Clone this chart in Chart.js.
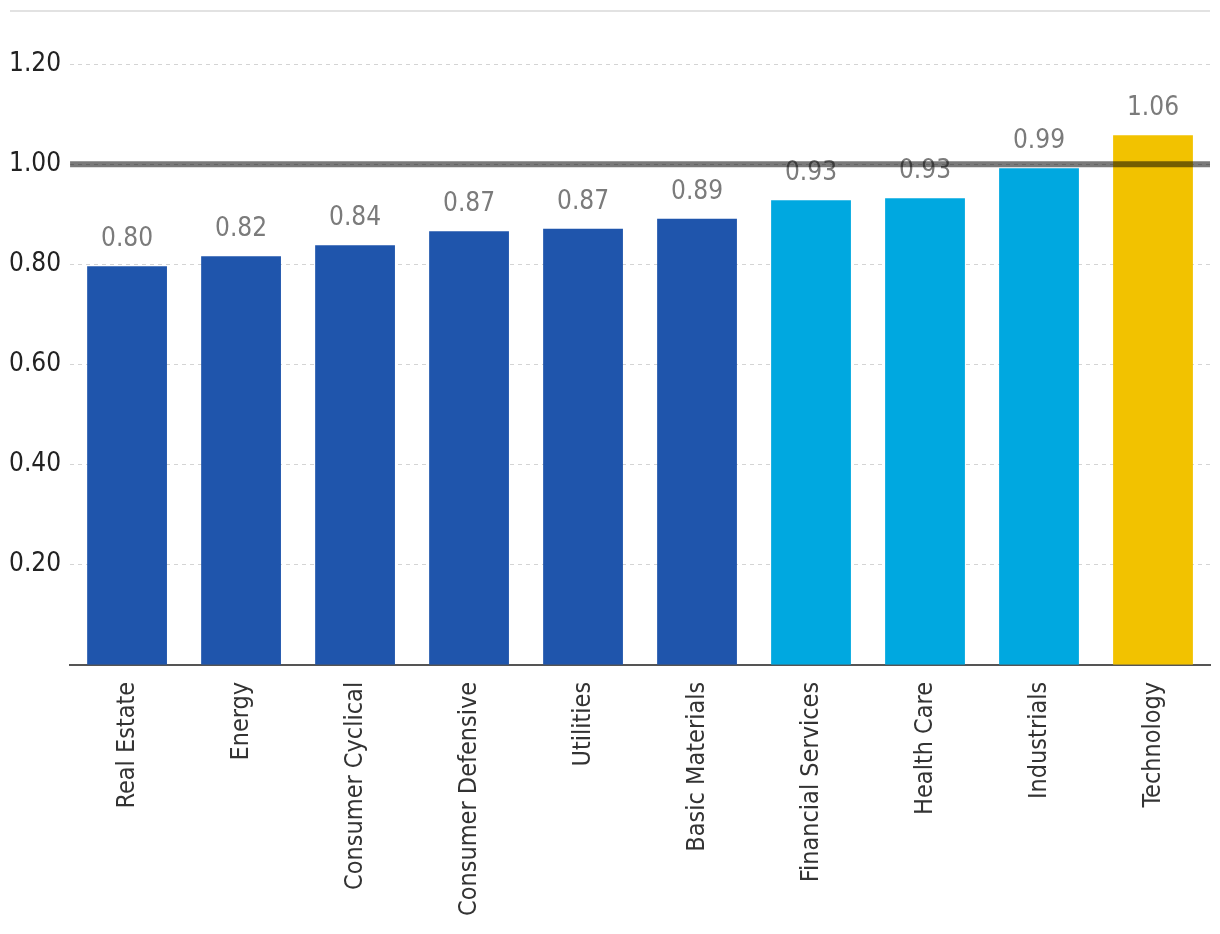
<!DOCTYPE html>
<html lang="en">
<head>
    <meta charset="UTF-8">
    <title>Sector ratios</title>
    <script src="https://cdn.jsdelivr.net/npm/chart.js"></script>
    <style>
        html, body { margin: 0; padding: 0; background: #fff; }
        #wrap { width: 1220px; height: 934px; position: relative; }
    </style>
</head>
<body>
<div id="wrap">
    <canvas id="sectorChart" width="1220" height="934"></canvas>
</div>
<script>
const sectors = ['Real Estate', 'Energy', 'Consumer Cyclical', 'Consumer Defensive', 'Utilities',
    'Basic Materials', 'Financial Services', 'Health Care', 'Industrials', 'Technology'];
const ratios = [0.796, 0.816, 0.838, 0.866, 0.871, 0.891, 0.928, 0.932, 0.992, 1.058];
const barColors = ['#1f55ac', '#1f55ac', '#1f55ac', '#1f55ac', '#1f55ac', '#1f55ac',
    '#00a8e0', '#00a8e0', '#00a8e0', '#f2c200'];
const yTicks = [0.2, 0.4, 0.6, 0.8, 1.0, 1.2];
const refValue = 1.0;

const FONT = '"Liberation Sans Narrow", "DejaVu Sans Condensed", "Roboto", sans-serif';

// value labels above each bar, then the 1.00 line and the top rule
const valueLabels = {
    id: 'valueLabels',
    afterDatasetsDraw(chart) {
        const ctx = chart.ctx;
        const meta = chart.getDatasetMeta(0);
        ctx.save();
        ctx.font = '26px ' + FONT;
        ctx.fillStyle = '#7b7b7b';
        ctx.textAlign = 'center';
        ctx.textBaseline = 'bottom';
        meta.data.forEach((bar, i) => {
            ctx.fillText(ratios[i].toFixed(2), bar.x, bar.y - 14);
        });
        const y = chart.scales.y.getPixelForValue(refValue);
        ctx.strokeStyle = 'rgba(0,0,0,0.52)';
        ctx.lineWidth = 6;
        ctx.beginPath();
        ctx.moveTo(chart.chartArea.left, y);
        ctx.lineTo(chart.chartArea.right, y);
        ctx.stroke();
        ctx.strokeStyle = '#e2e2e2';
        ctx.lineWidth = 2;
        ctx.beginPath();
        ctx.moveTo(10, chart.chartArea.top - 3);
        ctx.lineTo(chart.chartArea.right, chart.chartArea.top - 3);
        ctx.stroke();
        ctx.restore();
    }
};

new Chart(document.getElementById('sectorChart'), {
    type: 'bar',
    data: {
        labels: sectors,
        datasets: [{
            data: ratios,
            backgroundColor: barColors,
            barPercentage: 0.7,
            categoryPercentage: 1.0
        }]
    },
    options: {
        responsive: false,
        animation: false,
        layout: { padding: { top: 14, right: 10, left: 0, bottom: 1 } },
        plugins: { legend: { display: false }, tooltip: { enabled: false } },
        scales: {
            x: {
                grid: { display: false, drawTicks: false },
                border: { color: '#555', width: 2 },
                ticks: {
                    minRotation: 90, maxRotation: 90,
                    padding: 17,
                    color: '#333',
                    font: { family: FONT, size: 25 }
                }
            },
            y: {
                min: 0, max: 1.3,
                afterBuildTicks(axis) {
                    axis.ticks = yTicks.map(v => ({ value: v }));
                },
                afterFit(axis) {
                    axis.paddingTop = 0;
                    axis.paddingBottom = 0;
                },
                grid: {
                    color: '#d4d4d4',
                    lineWidth: 1,
                    drawTicks: false
                },
                border: { display: false, dash: [4, 4] },
                ticks: {
                    padding: 9,
                    color: '#222',
                    font: { family: FONT, size: 26 },
                    callback: v => v.toFixed(2)
                }
            }
        }
    },
    plugins: [valueLabels]
});
</script>
</body>
</html>
